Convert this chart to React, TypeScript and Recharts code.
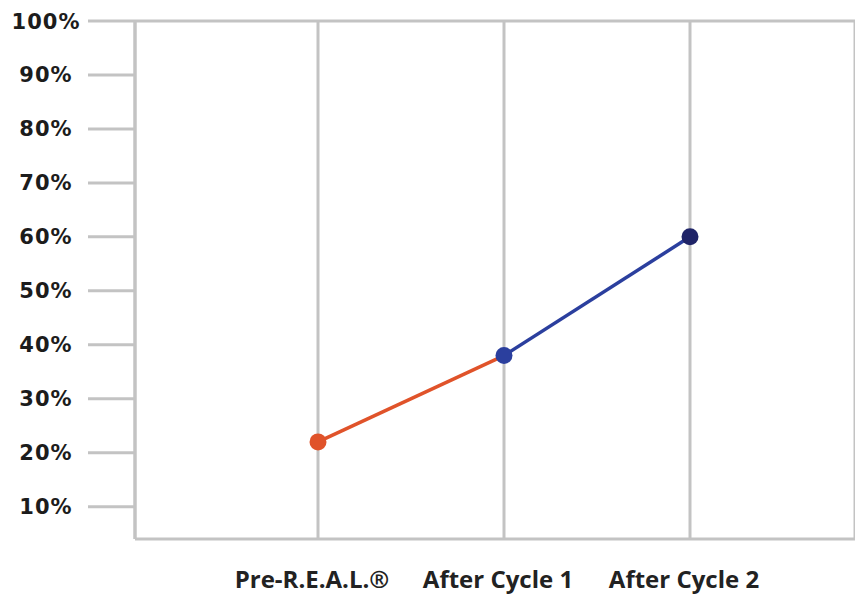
import React from "react"
import {
  LineChart,
  Line,
  XAxis,
  YAxis,
  CartesianGrid,
  ReferenceLine,
} from "recharts"

const categories = ["Pre-R.E.A.L.®", "After Cycle 1", "After Cycle 2"]
const values = [22, 38, 60]
const pointColors = ["#e0532a", "#2b3f9e", "#1f2468"]
const yTicks = [10, 20, 30, 40, 50, 60, 70, 80, 90, 100]

const data = categories.map((name, i) => ({
  name,
  before: i <= 1 ? values[i] : null,
  after: i >= 1 ? values[i] : null,
  value: values[i],
}))

const GRID = "#c3c3c3"

function YTick(props: any) {
  const { y, payload } = props
  return (
    <text
      x={46}
      y={y}
      dy={7.5}
      textAnchor="middle"
      fill="#1c1c1c"
      fontFamily="DejaVu Sans"
      fontWeight={700}
      fontSize={21}
      letterSpacing={1}
    >
      {payload.value}%
    </text>
  )
}

function XTick(props: any) {
  const { x, y, payload } = props
  return (
    <text
      x={x - 6}
      y={y + 41}
      textAnchor="middle"
      fill="#222"
      fontFamily="Open Sans"
      fontWeight={700}
      fontSize={24}
    >
      {payload.value}
    </text>
  )
}

function ColorDot(props: any) {
  const { cx, cy, index } = props
  if (cx == null || cy == null) return null
  return <circle key={index} cx={cx} cy={cy} r={8.5} fill={pointColors[index]} />
}

export default function App() {
  return (
    <div style={{ position: "absolute", left: 0, top: 0, background: "#fff" }}>
      <LineChart
        width={855}
        height={598}
        data={data}
        margin={{ top: 21, right: 0, bottom: 0, left: 0 }}
      >
        <CartesianGrid horizontal={false} stroke={GRID} strokeWidth={3} />
        <ReferenceLine y={100} stroke={GRID} strokeWidth={3} />
        <XAxis
          dataKey="name"
          height={59}
          padding={{ left: 183, right: 165 }}
          axisLine={{ stroke: GRID, strokeWidth: 3 }}
          tickLine={false}
          tick={<XTick />}
          interval={0}
        />
        <YAxis
          width={135}
          domain={[4, 100]}
          ticks={yTicks}
          allowDataOverflow
          axisLine={{ stroke: GRID, strokeWidth: 3 }}
          tickLine={{ stroke: GRID, strokeWidth: 3 }}
          tickSize={47}
          tick={<YTick />}
        />
        <Line
          dataKey="before"
          stroke="#e0532a"
          strokeWidth={3.5}
          dot={false}
          activeDot={false}
          isAnimationActive={false}
        />
        <Line
          dataKey="after"
          stroke="#2b3f9e"
          strokeWidth={3.5}
          dot={false}
          activeDot={false}
          isAnimationActive={false}
        />
        <Line
          dataKey="value"
          stroke="none"
          dot={<ColorDot />}
          activeDot={false}
          isAnimationActive={false}
        />
      </LineChart>
    </div>
  )
}
